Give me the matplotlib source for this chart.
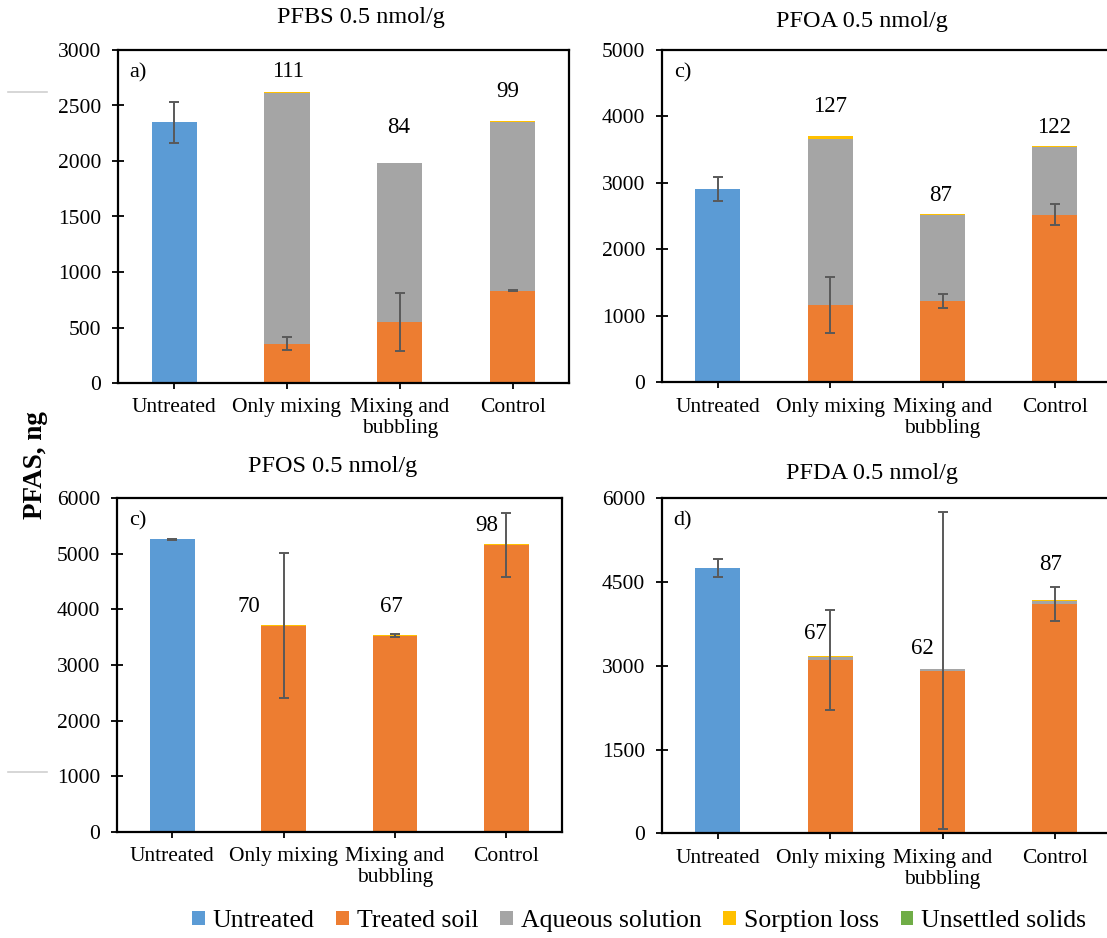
import matplotlib
matplotlib.use("Agg")
import matplotlib.pyplot as plt
from matplotlib.patches import Patch
from matplotlib.lines import Line2D

plt.rcParams["font.family"] = ["Liberation Serif", "DejaVu Serif"]

# --- data (ng) ---
categories = ["Untreated", "Only mixing", "Mixing and\nbubbling", "Control"]

pfbs_untreated = [2349, 0, 0, 0]
pfbs_treated   = [0, 354, 550, 832]
pfbs_aqueous   = [0, 2261, 1429, 1517]
pfbs_sorption  = [0, 8, 6, 8]
pfbs_unsettled = [0, 0, 0, 0]
pfbs_err_untreated = [185, 0, 0, 0]
pfbs_err_treated   = [0, 60, 263, 6]
pfbs_recovery = ["", "111", "84", "99"]

pfoa_untreated = [2902, 0, 0, 0]
pfoa_treated   = [0, 1162, 1227, 2520]
pfoa_aqueous   = [0, 2492, 1289, 1018]
pfoa_sorption  = [0, 55, 10, 15]
pfoa_unsettled = [0, 0, 0, 0]
pfoa_err_untreated = [180, 0, 0, 0]
pfoa_err_treated   = [0, 416, 105, 158]
pfoa_recovery = ["", "127", "87", "122"]

pfos_untreated = [5259, 0, 0, 0]
pfos_treated   = [0, 3710, 3530, 5155]
pfos_aqueous   = [0, 0, 0, 0]
pfos_sorption  = [0, 13, 13, 14]
pfos_unsettled = [0, 0, 0, 0]
pfos_err_untreated = [10, 0, 0, 0]
pfos_err_treated   = [0, 1300, 20, 578]
pfos_recovery = ["", "70", "67", "98"]

pfda_untreated = [4749, 0, 0, 0]
pfda_treated   = [0, 3106, 2909, 4109]
pfda_aqueous   = [0, 48, 30, 49]
pfda_sorption  = [0, 15, 10, 20]
pfda_unsettled = [0, 0, 0, 0]
pfda_err_untreated = [160, 0, 0, 0]
pfda_err_treated   = [0, 896, 2840, 311]
pfda_recovery = ["", "67", "62", "87"]

# where the recovery (%) labels sit: x shift in category units, y in ng
pfbs_label_dx = [0, 0.01, -0.01, -0.04]
pfbs_label_y  = [0, 2802, 2306, 2622]
pfoa_label_dx = [0, 0.0, -0.02, -0.01]
pfoa_label_y  = [0, 4144, 2806, 3835]
pfos_label_dx = [0, -0.31, -0.03, -0.18]
pfos_label_y  = [0, 4059, 4047, 5516]
pfda_label_dx = [0, -0.13, -0.18, -0.04]
pfda_label_y  = [0, 3572, 3303, 4821]

colors = {"Untreated": "#5B9BD5", "Treated soil": "#ED7D31",
          "Aqueous solution": "#A5A5A5", "Sorption loss": "#FFC000",
          "Unsettled solids": "#70AD47"}

W, H = 1107, 938
fig = plt.figure(figsize=(W / 100, H / 100), dpi=100)

def px_axes(left, top, right, bottom):
    return fig.add_axes([left / W, 1 - bottom / H, (right - left) / W, (bottom - top) / H])

panels = [
    dict(rect=(117.7, 50, 569, 383), title="PFBS 0.5 nmol/g", tpos=(361, 18), tag="a)",
         ylim=3000, step=500,
         stacks=[pfbs_untreated, pfbs_treated, pfbs_aqueous, pfbs_sorption, pfbs_unsettled],
         eu=pfbs_err_untreated, et=pfbs_err_treated, rec=pfbs_recovery,
         ldx=pfbs_label_dx, ly=pfbs_label_y),
    dict(rect=(661.7, 50, 1111, 382.3), title="PFOA 0.5 nmol/g", tpos=(862, 22), tag="c)",
         ylim=5000, step=1000,
         stacks=[pfoa_untreated, pfoa_treated, pfoa_aqueous, pfoa_sorption, pfoa_unsettled],
         eu=pfoa_err_untreated, et=pfoa_err_treated, rec=pfoa_recovery,
         ldx=pfoa_label_dx, ly=pfoa_label_y),
    dict(rect=(116.7, 498.3, 562, 831.7), title="PFOS 0.5 nmol/g", tpos=(333, 466), tag="c)",
         ylim=6000, step=1000,
         stacks=[pfos_untreated, pfos_treated, pfos_aqueous, pfos_sorption, pfos_unsettled],
         eu=pfos_err_untreated, et=pfos_err_treated, rec=pfos_recovery,
         ldx=pfos_label_dx, ly=pfos_label_y),
    dict(rect=(661.7, 498.3, 1111, 833.3), title="PFDA 0.5 nmol/g", tpos=(872, 474), tag="d)",
         ylim=6000, step=1500,
         stacks=[pfda_untreated, pfda_treated, pfda_aqueous, pfda_sorption, pfda_unsettled],
         eu=pfda_err_untreated, et=pfda_err_treated, rec=pfda_recovery,
         ldx=pfda_label_dx, ly=pfda_label_y),
]

x = list(range(len(categories)))
series_names = list(colors.keys())

for p in panels:
    ax = px_axes(*p["rect"])
    bottom = [0] * len(x)
    for name, vals in zip(series_names, p["stacks"]):
        ax.bar(x, vals, width=0.4, bottom=bottom, color=colors[name], edgecolor="none", zorder=2)
        bottom = [b + v for b, v in zip(bottom, vals)]

    # error bars: untreated total and treated-soil top
    untreated, treated = p["stacks"][0], p["stacks"][1]
    for i in x:
        if p["eu"][i]:
            ax.errorbar(i, untreated[i], yerr=p["eu"][i], color="#595959", lw=1.4,
                        capsize=3.5, capthick=1.4, zorder=3)
        if p["et"][i]:
            ax.errorbar(i, treated[i], yerr=p["et"][i], color="#595959", lw=1.4,
                        capsize=3.5, capthick=1.4, zorder=3)

    for i in x:
        if p["rec"][i]:
            ax.text(i + p["ldx"][i], p["ly"][i], p["rec"][i], ha="center", va="center",
                    fontsize=16.5, zorder=4)

    ax.set_xlim(-0.5, 3.5)
    ax.set_ylim(0, p["ylim"])
    ax.set_yticks(range(0, p["ylim"] + 1, p["step"]))
    ax.set_xticks(x)
    ax.set_xticklabels(categories, fontsize=15.5, linespacing=1.15)
    ax.tick_params(axis="y", direction="inout", length=8, width=1.3, pad=8, labelsize=15.5)
    ax.tick_params(axis="x", direction="inout", length=8, width=1.3, pad=7)
    for s in ax.spines.values():
        s.set_linewidth(1.6)
    ax.annotate(p["tag"], xy=(0, 1), xycoords="axes fraction", xytext=(12, -23),
                textcoords="offset pixels", ha="left", va="center", fontsize=16)
    fig.text(p["tpos"][0] / W, 1 - p["tpos"][1] / H, p["title"], ha="center", va="center",
             fontsize=17.5)

fig.text(35 / W, 1 - 465 / H, "PFAS, ng", rotation=90, ha="center", va="center",
         fontsize=19.5, fontweight="bold")

# stray light-grey dashes at the left margin
for yy in (92.3, 771.7):
    fig.add_artist(Line2D([8 / W, 47 / W], [1 - yy / H, 1 - yy / H], color="#D0D0D0", lw=1.2))

handles = [Patch(facecolor=colors[n], edgecolor="none") for n in series_names]
fig.legend(handles, series_names, loc="center", bbox_to_anchor=(639 / W, 1 - 921 / H),
           ncol=5, frameon=False, fontsize=18.5, handlelength=0.5, handleheight=0.5,
           handletextpad=0.3, columnspacing=0.85)

fig.savefig("out.png", dpi=100)
